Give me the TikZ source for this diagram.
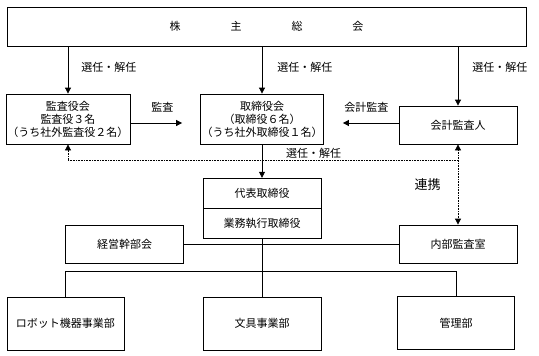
\documentclass[tikz,border=0pt]{standalone}
\usepackage{fontspec}
\setmainfont{Noto Sans CJK JP}
\usetikzlibrary{arrows.meta,positioning,shapes.multipart}
\newcommand{\partstrut}{\rule[-11pt]{0pt}{29.5pt}}

\begin{document}
\begin{tikzpicture}[
    x=1pt, y=-1pt,
    font=\fontsize{11}{13}\selectfont,
    box/.style={draw=black, line width=0.8pt, align=center, inner sep=0pt,
                minimum width=118pt, minimum height=38pt},
    splitbox/.style={draw=black, line width=0.8pt, inner sep=0pt,
                rectangle split, rectangle split parts=2,
                minimum width=118pt, minimum height=0pt},
    arrow/.style={-{Triangle[length=6pt,width=6pt]}, line width=0.8pt},
    link/.style={line width=0.8pt},
    dots/.style={line width=0.8pt, dash pattern=on 0.8pt off 0.8pt},
    lbl/.style={inner sep=1pt}
]
    \path[fill=white, use as bounding box] (0,0) rectangle (539,356);
    \coordinate (lvl) at (0,123);
    \coordinate (dotlvl) at (0,160);
    \coordinate (bus) at (0,271);

    \node[box, minimum width=519pt, minimum height=39pt] (meeting) at (266.5,26.5)
        {株\hspace{50pt}主\hspace{50pt}総\hspace{50pt}会};
    \node[box, minimum width=124pt, minimum height=50pt] (audit) at (68,119)
        {監査役会\\監査役３名\\（うち社外監査役２名）};
    \node[box, minimum width=123pt, minimum height=50pt] (board) at (262,119)
        {取締役会\\（取締役６名）\\（うち社外取締役１名）};
    \node[box] (acct) at (458,125) {会計監査人};
    \node[splitbox] (rep) at (262,208.5)
        {\partstrut 代表取締役\nodepart{two}\partstrut 業務執行取締役};
    \node[box] (council) at (124.5,244) {経営幹部会};
    \node[box] (internal) at (458,244) {内部監査室};
    \node[box, minimum width=117pt, minimum height=53pt] (robot) at (65.5,323.5)
        {ロボット機器事業部};
    \node[box, minimum height=53pt] (stationery) at (262,323.5) {文具事業部};
    \node[box, minimum width=117pt, minimum height=53pt] (admin) at (456,323) {管理部};

    % election by the shareholders
    \draw[arrow] (meeting.south -| audit.north) --
        node[lbl, right=12pt, pos=0.44]{選任・解任} (audit.north);
    \draw[arrow] (meeting.south -| board.north) --
        node[lbl, right=14pt, pos=0.44]{選任・解任} (board.north);
    \draw[arrow] (meeting.south -| acct.north) --
        node[lbl, right=13pt, pos=0.35]{選任・解任} (acct.north);

    % audits
    \draw[arrow, shorten >=18pt] (audit.east |- lvl) --
        node[lbl, above=9pt, xshift=-3pt]{監査} (board.west |- lvl);
    \draw[arrow, shorten >=19pt] (acct.west |- lvl) --
        node[lbl, above=9pt, xshift=5pt]{会計監査} (board.east |- lvl);

    % dotted links
    \draw[dots] (audit.south |- dotlvl) --
        node[lbl, above, pos=0.63]{選任・解任} (acct.south |- dotlvl);
    \draw[dots, -{Triangle[length=6pt,width=6pt]}] (audit.south |- dotlvl) -- (audit.south);
    \draw[dots, {Triangle[length=6pt,width=6pt]}-{Triangle[length=6pt,width=6pt]}]
        (acct.south) -- node[lbl, left=16pt, font=\fontsize{13}{15}\selectfont]{連携}
        (internal.north);

    % management line
    \draw[arrow] (board.south) -- (rep.north);
    \draw[link] (council.east) -- (internal.west);
    \draw[link] (rep.south) -- (stationery.north);
    \draw[link] (robot.north) -- (robot.north |- bus) -- (admin.north |- bus) -- (admin.north);
\end{tikzpicture}
\end{document}
